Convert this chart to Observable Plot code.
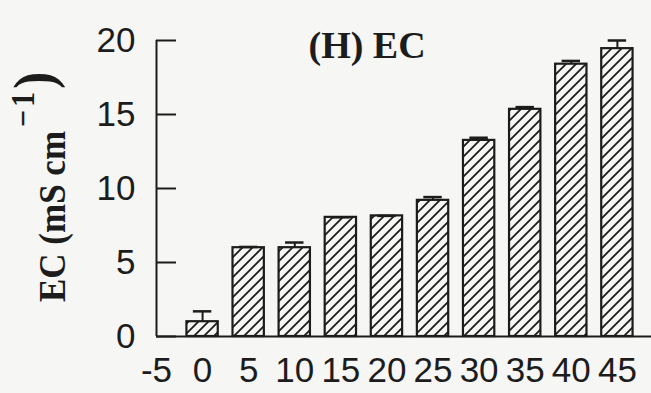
<!DOCTYPE html>
<html><head><meta charset="utf-8">
<script src="https://cdn.jsdelivr.net/npm/d3@7"></script>
<script src="https://cdn.jsdelivr.net/npm/@observablehq/plot@0.6"></script>
<style>
html,body{margin:0;padding:0;background:#f6f6f4;}
#chart svg{display:block;}
</style></head><body><div id="chart"></div>
<script>
// Data
const days = [0, 5, 10, 15, 20, 25, 30, 35, 40, 45];
const ecValues = [1.0, 6.0, 6.0, 8.05, 8.15, 9.2, 13.25, 15.35, 18.4, 19.45];
const ecErrors = [0.7, 0.05, 0.35, 0.0, 0.0, 0.22, 0.18, 0.15, 0.22, 0.55];
const xTicks = [-5, 0, 5, 10, 15, 20, 25, 30, 35, 40, 45];
const yTicks = [0, 5, 10, 15, 20];
const titleText = "(H) EC";
const yLabelMain = "EC (mS cm";
const yLabelSup = "-1";
const yLabelEnd = ")";

const ink = "#1c1c1c";
const barHalf = 1.7;   // half bar width in x units
const capHalf = 1.0;   // half error-cap width in x units

const data = days.map((d, i) => ({day: d, ec: ecValues[i], err: ecErrors[i]}));

const plot = Plot.plot({
  width: 651,
  height: 393,
  marginLeft: 156,
  marginRight: 0,
  marginTop: 40,
  marginBottom: 57,
  style: {background: "transparent", color: ink, fontFamily: "'Liberation Sans', Arial, sans-serif", fontSize: "35px"},
  x: {type: "linear", domain: [-5, 48.7]},
  y: {domain: [0, 20]},
  marks: [
    Plot.rectY(data, {x1: d => d.day - barHalf, x2: d => d.day + barHalf, y1: 0, y2: "ec", fill: "url(#hatch)", stroke: ink, strokeWidth: 2.2}),
    Plot.ruleX(data, {x: "day", y1: "ec", y2: d => d.ec + d.err, stroke: ink, strokeWidth: 2}),
    Plot.ruleY(data, {y: d => d.ec + d.err, x1: d => d.day - capHalf, x2: d => d.day + capHalf, stroke: ink, strokeWidth: 2.5}),
    Plot.axisY(yTicks, {tickSize: -20, tickPadding: 41, strokeWidth: 2, label: null, fontSize: 35, fill: ink, tickFormat: d => String(d)}),
    Plot.axisX(xTicks, {tickSize: 0, tickPadding: 21, label: null, fontSize: 35, fill: ink, tickFormat: d => String(d)}),
    Plot.ruleX([-5], {y1: 0, y2: 20, stroke: ink, strokeWidth: 2}),
    Plot.ruleY([0], {stroke: ink, strokeWidth: 2}),
    Plot.text([titleText], {frameAnchor: "top-left", textAnchor: "start", lineAnchor: "middle", dx: 152, dy: 5,
      fontFamily: "'Liberation Serif', 'Times New Roman', serif", fontWeight: "bold", fontSize: 38, fill: ink})
  ]
});

const svg = d3.select(plot);
const defs = svg.insert("defs", ":first-child");
const pat = defs.append("pattern").attr("id", "hatch").attr("patternUnits", "userSpaceOnUse")
  .attr("width", 10).attr("height", 10);
pat.append("rect").attr("width", 10).attr("height", 10).attr("fill", "#f6f6f4");
pat.append("path").attr("d", "M0,10 L10,0 M-2,2 L2,-2 M8,12 L12,8")
  .attr("stroke", ink).attr("stroke-width", 1.8).attr("fill", "none");

const lab = svg.append("text")
  .attr("transform", "translate(65,302) rotate(-90) scale(1,1.1)")
  .attr("text-anchor", "start")
  .attr("font-family", "'Liberation Serif', 'Times New Roman', serif")
  .attr("font-weight", "bold").attr("font-size", 35).attr("fill", ink);
lab.append("tspan").text(yLabelMain);
lab.append("tspan").attr("dx", 4).attr("dy", -28).attr("font-size", 30).attr("letter-spacing", 3)
  .text(yLabelSup.replace("-", "\u2212"));
lab.append("tspan").attr("dy", 17).attr("dx", 0).attr("font-size", 52).text(yLabelEnd);

document.getElementById("chart").appendChild(plot);
</script>
</body></html>
